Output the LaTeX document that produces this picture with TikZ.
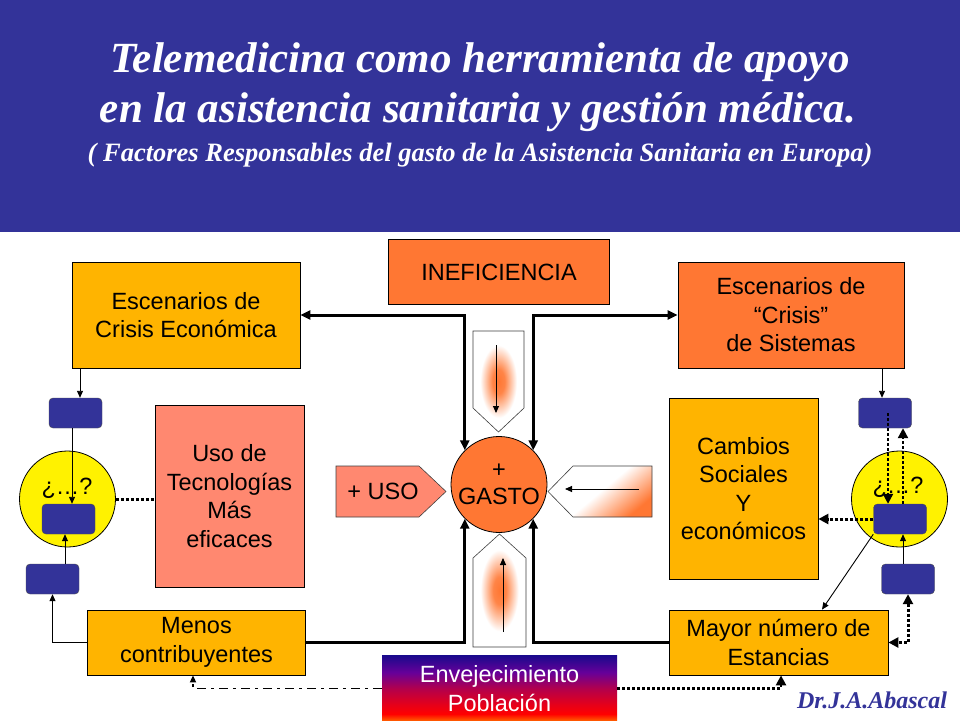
\documentclass[tikz,border=0pt]{standalone}
\usepackage{fontspec}
\setmainfont{Liberation Sans}
\newfontfamily\titlefont{Liberation Serif}
\usepackage{tikz}
\usepackage{color}
\usetikzlibrary{arrows.meta}

\definecolor{slideblue}{RGB}{51,51,153}
\definecolor{amber}{RGB}{255,180,0}
\definecolor{hot}{RGB}{255,119,51}
\definecolor{salmon}{RGB}{255,136,112}
\definecolor{agetop}{RGB}{24,10,140}

% colour run of the Envejecimiento box, bottom to top
\pgfdeclareverticalshading{aging}{100bp}{color(0bp)=(orange); color(25bp)=(orange!90!red);
  color(31bp)=(red); color(38bp)=(red!90!blue); color(50bp)=(red!70!blue);
  color(62bp)=(red!40!blue); color(75bp)=(agetop); color(100bp)=(agetop)}
% orange glow of the upper and lower arrows
\pgfdeclareradialshading{glow}{\pgfpoint{0bp}{0bp}}{color(0bp)=(hot); color(6bp)=(hot!90!white);
  color(18bp)=(white); color(50bp)=(white)}

\begin{document}
\begin{tikzpicture}[x=1pt,y=-1pt,->,>={Triangle[length=9pt,width=8pt]},
		factor box/.style={rectangle,draw,line width=0.8pt,align=center,inner sep=0pt,
			font=\fontsize{23.5}{28.5}\selectfont},
		key box/.style={rectangle,rounded corners=4pt,draw=black!70,fill=slideblue,
			minimum width=53pt,minimum height=30pt},
		doubt/.style={circle,draw,line width=0.8pt,fill=yellow,minimum size=96pt},
		feed arrow/.style={draw=black!75,line width=0.6pt,-},
		title/.style={text=white,font=\titlefont\bfseries\itshape},
		big link/.style={line width=3pt,>={Triangle[length=10pt,width=9pt]}},
		thin link/.style={line width=0.9pt,>={Triangle[length=7pt,width=6pt]}},
		dot link/.style={line width=3pt,dotted,>={Triangle[length=10pt,width=10pt]}}]

	\useasboundingbox (0,0) rectangle (960,720);
	\fill[white] (0,0) rectangle (960,720);

	% heading
	\fill[slideblue] (0,0) rectangle (960,232);
	\node[title,font=\titlefont\bfseries\itshape\fontsize{43}{48}\selectfont] (t1) at (480,62)
		{Telemedicina como herramienta de apoyo};
	\node[title,font=\titlefont\bfseries\itshape\fontsize{43}{48}\selectfont] (t2) at (478,112)
		{en la asistencia sanitaria y gestión médica.};
	\node[title,font=\titlefont\bfseries\itshape\fontsize{26.5}{30}\selectfont] (t3) at (480,155)
		{( Factores Responsables del gasto de la Asistencia Sanitaria en Europa)};

	% factors
	\node[factor box,fill=hot,minimum width=221pt,minimum height=65pt] (inef) at (499,272) {INEFICIENCIA};
	\node[factor box,fill=amber,minimum width=228pt,minimum height=106pt] (econ) at (186,315)
		{Escenarios de\\Crisis Económica};
	\node[factor box,fill=hot,minimum width=226pt,minimum height=106pt] (sist) at (791,315)
		{Escenarios de\\“Crisis”\\de Sistemas};
	\node[factor box,fill=salmon,minimum width=149pt,minimum height=182pt] (uso) at (229.5,496)
		{Uso de\\Tecnologías\\Más\\eficaces};
	\node[factor box,fill=amber,minimum width=149pt,minimum height=181pt] (camb) at (743.5,488.5)
		{Cambios\\Sociales\\Y\\económicos};
	\node[factor box,fill=amber,minimum width=218pt,minimum height=65pt] (menos) at (196.5,642.5)
		{Menos\\contribuyentes};
	\node[factor box,fill=amber,minimum width=219pt,minimum height=65pt] (mayor) at (778.5,642.5)
		{Mayor número de\\Estancias};
	\node[factor box,draw=none,shade,shading=aging,text=white,minimum width=235pt,minimum height=67pt]
		(aging) at (499.5,688.5) {Envejecimiento\\Población};

	% centre
	\node[circle,draw,line width=0.8pt,fill=hot,minimum size=96pt,align=center,inner sep=0pt,
		font=\fontsize{23.5}{27}\selectfont] (gasto) at (499,484.5) {+\\GASTO};

	% the four feeding arrows
	\filldraw[feed arrow,fill=salmon] (336,466) -- (419,466) -- (446,491.5) -- (419,517) -- (336,517) -- cycle;
	\node[font=\fontsize{23.5}{28}\selectfont] (usot) at (383,491) {+ USO};
	\shadedraw[feed arrow,top color=white,bottom color=hot,middle color=white,shading angle=40]
		(652,466) -- (573,466) -- (548,491.5) -- (573,517) -- (652,517) -- cycle;
	\shadedraw[feed arrow,shading=glow]
		(473,331) -- (524,331) -- (524,408) -- (498.5,432) -- (473,408) -- cycle;
	\shadedraw[feed arrow,shading=glow]
		(473,647) -- (526,647) -- (526,558) -- (499.5,534) -- (473,558) -- cycle;
	\draw[thin link] (496,345) -- (496,413);
	\draw[thin link] (503,632) -- (503,558);
	\draw[thin link] (639,489) -- (565,489);

	\draw[big link,<->] (econ.east) -| (gasto.north west);
	\draw[big link,<->] (sist.west) -| (gasto.north east);
	\draw[big link] (menos.east) -| (gasto.south west);
	\draw[big link] (mayor.west) -| (gasto.south east);

	% left loop
	\node[doubt] (q1) at (67.5,499) {};
	\node[font=\fontsize{23.5}{28}\selectfont] (q1t) at (67,488) {¿…?};
	\node[key box] (k1) at (75.5,413) {};
	\node[key box] (k2) at (68.5,519) {};
	\node[key box] (k3) at (52.5,579) {};

	\draw[thin link] (80,0 |- econ.south) -- (80,0 |- k1.north);
	\draw[thin link] (72,0 |- k1.south) -- (72,0 |- k2.north);
	\draw[thin link] (65,0 |- k3.north) -- (65,0 |- k2.south);
	\draw[thin link] (menos.west) -| (k3.south);
	\draw[dot link,-] (q1.east) -- (uso.west |- q1.east);
	\draw[thin link,line width=1.8pt,dash pattern=on 9pt off 5pt on 3pt off 5pt]
		(aging.west) -| (193,0 |- menos.south);

	% right loop
	\node[doubt] (q2) at (899.5,499) {};
	\node[font=\fontsize{23.5}{28}\selectfont] (q2t) at (898,487) {¿…?};
	\node[key box] (k4) at (885,413) {};
	\node[key box] (k5) at (900,519) {};
	\node[key box] (k6) at (908,579) {};

	\draw[thin link] (882,0 |- sist.south) -- (882,0 |- k4.north);
	\draw[dot link,line width=2.2pt] (888,0 |- k4.center) -- (888,0 |- k5.north);
	\draw[dot link,line width=2.2pt] (903,0 |- k5.north) -- (903,0 |- k4.south);
	\draw[thin link] (903,0 |- k6.north) -- (903,0 |- k5.south);
	\draw[dot link] (k5.west) -- (camb.east |- k5.west);
	\draw[thin link] (k5.south west) -- (822,0 |- mayor.north);
	\draw[dot link,<->] (k6.south) |- (mayor.east);
	\draw[dot link,line width=2.5pt] (aging.east) -| (781,0 |- mayor.south);

	\node[text=slideblue,font=\titlefont\bfseries\itshape\fontsize{24}{28}\selectfont] (sign) at (872,700)
		{Dr.J.A.Abascal};
\end{tikzpicture}
\end{document}
